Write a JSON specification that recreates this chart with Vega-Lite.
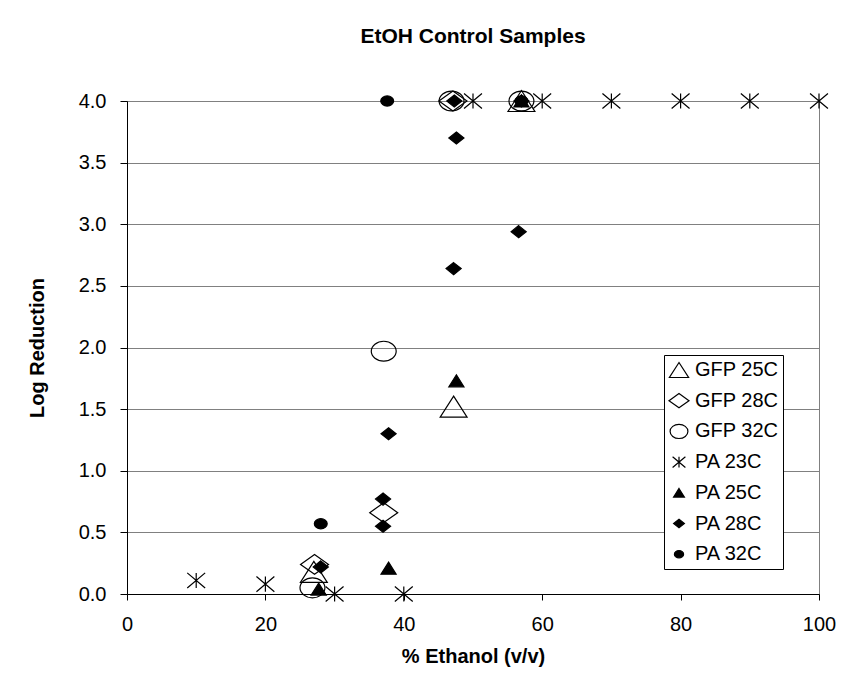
{
  "$schema": "https://vega.github.io/schema/vega-lite/v6.json",
  "width": 692,
  "height": 493,
  "autosize": {"type": "none"},
  "padding": {"left": 127, "top": 101, "right": 35, "bottom": 94},
  "background": "white",
  "title": {"text": "EtOH Control Samples", "font": "Liberation Sans", "fontSize": 21, "fontWeight": "bold", "color": "black", "anchor": "middle", "frame": "group", "offset": 41},
  "data": {"values": [
    {"series": "GFP 25C", "ethanol": 27, "logred": 0.18},
    {"series": "GFP 25C", "ethanol": 47.2, "logred": 1.52},
    {"series": "GFP 25C", "ethanol": 57, "logred": 4.0},
    {"series": "GFP 28C", "ethanol": 27.1, "logred": 0.24},
    {"series": "GFP 28C", "ethanol": 37.1, "logred": 0.66},
    {"series": "GFP 28C", "ethanol": 47.1, "logred": 4.0},
    {"series": "GFP 32C", "ethanol": 26.8, "logred": 0.05},
    {"series": "GFP 32C", "ethanol": 37.1, "logred": 1.97},
    {"series": "GFP 32C", "ethanol": 46.9, "logred": 4.0},
    {"series": "GFP 32C", "ethanol": 57, "logred": 4.0},
    {"series": "PA 23C", "ethanol": 10, "logred": 0.11},
    {"series": "PA 23C", "ethanol": 20, "logred": 0.08},
    {"series": "PA 23C", "ethanol": 30, "logred": 0.0},
    {"series": "PA 23C", "ethanol": 40, "logred": 0.0},
    {"series": "PA 23C", "ethanol": 50, "logred": 4.0},
    {"series": "PA 23C", "ethanol": 60, "logred": 4.0},
    {"series": "PA 23C", "ethanol": 70, "logred": 4.0},
    {"series": "PA 23C", "ethanol": 80, "logred": 4.0},
    {"series": "PA 23C", "ethanol": 90, "logred": 4.0},
    {"series": "PA 23C", "ethanol": 100, "logred": 4.0},
    {"series": "PA 25C", "ethanol": 27.7, "logred": 0.04},
    {"series": "PA 25C", "ethanol": 37.8, "logred": 0.21},
    {"series": "PA 25C", "ethanol": 47.6, "logred": 1.73},
    {"series": "PA 25C", "ethanol": 57, "logred": 4.0},
    {"series": "PA 28C", "ethanol": 28, "logred": 0.22},
    {"series": "PA 28C", "ethanol": 37, "logred": 0.55},
    {"series": "PA 28C", "ethanol": 37, "logred": 0.77},
    {"series": "PA 28C", "ethanol": 37.8, "logred": 1.3},
    {"series": "PA 28C", "ethanol": 47.2, "logred": 2.64},
    {"series": "PA 28C", "ethanol": 47.6, "logred": 3.7},
    {"series": "PA 28C", "ethanol": 56.6, "logred": 2.94},
    {"series": "PA 28C", "ethanol": 47.3, "logred": 4.0},
    {"series": "PA 28C", "ethanol": 57, "logred": 4.0},
    {"series": "PA 32C", "ethanol": 28, "logred": 0.57},
    {"series": "PA 32C", "ethanol": 37.6, "logred": 4.0},
    {"series": "PA 32C", "ethanol": 57, "logred": 4.0}
  ]},
  "mark": {"type": "point", "filled": true, "size": 784, "strokeWidth": 1.2, "opacity": 1},
  "encoding": {
    "x": {
      "field": "ethanol", "type": "quantitative",
      "scale": {"domain": [0, 100], "nice": false, "zero": false},
      "axis": {"title": "% Ethanol (v/v)", "values": [0, 20, 40, 60, 80, 100], "grid": false, "tickSize": 6, "labelPadding": 14, "titlePadding": 12, "labelFlush": false, "labelOverlap": false}
    },
    "y": {
      "field": "logred", "type": "quantitative",
      "scale": {"domain": [0, 4], "nice": false},
      "axis": {"title": "Log Reduction", "values": [0, 0.5, 1, 1.5, 2, 2.5, 3, 3.5, 4], "format": ".1f", "grid": true, "tickSize": 7, "labelPadding": 14, "titlePadding": 31, "labelFlush": false, "labelOverlap": false}
    },
    "shape": {
      "field": "series", "type": "nominal",
      "scale": {
        "domain": ["GFP 25C", "GFP 28C", "GFP 32C", "PA 23C", "PA 25C", "PA 28C", "PA 32C"],
        "range": [
          "M0,-0.75L0.96,0.75L-0.96,0.75Z",
          "M0,-0.71L1,0L0,0.71L-1,0Z",
          "M-0.89,0A0.89,0.71,0,1,1,0.89,0A0.89,0.71,0,1,1,-0.89,0Z",
          "M-0.64,-0.54L0.64,0.54M-0.64,0.54L0.64,-0.54M0,-0.54L0,0.54",
          "M0,-0.43L0.54,0.43L-0.54,0.43Z",
          "M0,-0.43L0.54,0L0,0.43L-0.54,0Z",
          "M-0.46,0A0.46,0.36,0,1,1,0.46,0A0.46,0.36,0,1,1,-0.46,0Z"
        ]
      },
      "legend": {"title": null}
    },
    "fill": {
      "field": "series", "type": "nominal",
      "scale": {
        "domain": ["GFP 25C", "GFP 28C", "GFP 32C", "PA 23C", "PA 25C", "PA 28C", "PA 32C"],
        "range": ["transparent", "transparent", "transparent", "transparent", "black", "black", "black"]
      },
      "legend": {"title": null}
    },
    "stroke": {
      "field": "series", "type": "nominal",
      "scale": {
        "domain": ["GFP 25C", "GFP 28C", "GFP 32C", "PA 23C", "PA 25C", "PA 28C", "PA 32C"],
        "range": ["black", "black", "black", "black", "black", "black", "black"]
      },
      "legend": {"title": null}
    }
  },
  "config": {
    "font": "Liberation Sans",
    "view": {"stroke": "#808080", "strokeWidth": 1},
    "axis": {
      "domainColor": "black", "domainWidth": 1,
      "tickColor": "black", "tickWidth": 1,
      "labelColor": "black", "labelFont": "Liberation Sans", "labelFontSize": 20,
      "titleColor": "black", "titleFont": "Liberation Sans", "titleFontSize": 20, "titleFontWeight": "bold",
      "gridColor": "#808080", "gridOpacity": 1, "gridWidth": 1
    },
    "legend": {
      "orient": "none", "legendX": 537, "legendY": 254,
      "direction": "vertical",
      "fillColor": "white", "strokeColor": "black", "strokeWidth": 1,
      "padding": 4, "rowPadding": 9.7,
      "symbolSize": 400, "symbolStrokeWidth": 1.2,
      "labelFont": "Liberation Sans", "labelFontSize": 20, "labelColor": "black", "labelOffset": 5,
      "labelLimit": 0
    }
  }
}
